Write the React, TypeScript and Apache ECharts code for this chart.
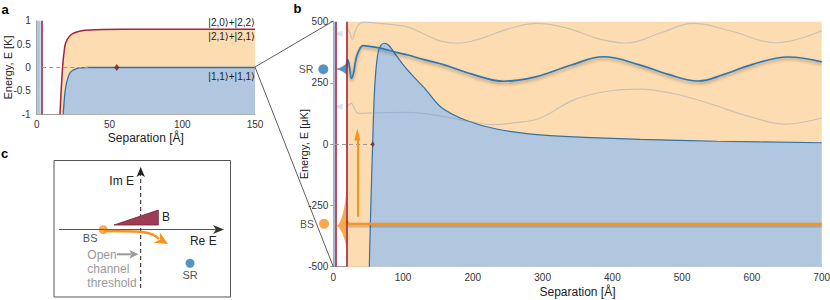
import React, { useEffect, useRef } from "react";
import * as echarts from "echarts";

const FONT = "'Liberation Sans', Arial, Helvetica, 'DejaVu Sans', sans-serif";
const ORANGE_FILL = "#FDDCB1";
const BLUE_FILL = "#B1C7DF";
const CORE_FILL = "#A9BBD0";
const BLUE_LINE = "#3471A8";
const WAVE_BLUE = "#2C78B6";
const FAINT = "rgba(120,150,185,0.38)";
const RED = "#A3243F";
const ORANGE = "#F7941D";
const DIAMOND = "#7B1B1B";

// ---------------- Panel a (K, Å) ----------------
const aRedX = [16, 16.8, 17.9, 18.7, 19.5, 21, 22.9, 25, 27.5, 31, 36.6, 45, 60, 100, 150];
const aRedY = [-1, -0.5, 0.05, 0.3, 0.48, 0.6, 0.68, 0.73, 0.76, 0.785, 0.8, 0.81, 0.815, 0.815, 0.815];
const aBlueX = [18.2, 18.8, 19.5, 20.5, 21.7, 23, 24.8, 27, 29.7, 35, 60, 150];
const aBlueY = [-1, -0.75, -0.52, -0.33, -0.2, -0.11, -0.06, -0.03, -0.01, 0, 0, 0];
const aCoreBand = [0, 2.7];
const aWalls = [3.8];
const aCrossing = [[55, 0]];
const aZeroSegment = [3.8, 36];
const aStateLabels = ["|2,0⟩+|2,2⟩", "|2,1⟩+|2,1⟩", "|1,1⟩+|1,1⟩"];

// ---------------- Panel b (μK, Å) ----------------
const bBlueX = [51.6, 54, 56.4, 58, 59.8, 62, 64.5, 68, 73, 79, 88, 100, 115, 131, 155, 190, 234, 296, 360, 440, 550, 700];
const bBlueY = [-500, -230, 0, 150, 255, 330, 378, 402, 412, 405, 371, 325, 276, 228, 150, 98, 62, 38, 28, 20, 12, 6];
const bSRX = [19, 20.6, 23, 26, 29, 32, 36, 43, 55, 69, 90, 107, 130, 160, 200, 244, 290, 340, 387, 440, 480, 523, 560, 600, 652, 700];
const bSRY = [320, 345, 320, 269, 290, 340, 378, 402, 398, 391, 375, 364, 345, 323, 285, 257, 275, 322, 357, 323, 285, 258, 285, 325, 356, 336];
const bUpperX = [19, 23, 27, 32, 36, 43, 70, 107, 130, 153, 177, 210, 250, 291, 340, 380, 420, 470, 516, 570, 635, 700];
const bUpperY = [473, 460, 429, 465, 487, 498, 492, 478, 450, 422, 412, 430, 470, 493, 470, 430, 413, 455, 493, 462, 414, 463];
const bLowerX = [19, 23, 26, 30, 36, 60, 107, 160, 200, 229, 260, 296, 344, 390, 440, 490, 540, 600, 647, 700];
const bLowerY = [153, 162, 167, 148, 126, 128, 130, 112, 90, 80, 88, 106, 180, 215, 225, 205, 165, 110, 82, 107];
const bBSX = [19, 21, 24, 700];
const bBSY = [-312, -322, -325, -325];
const bCoreBand = [0, 2.5];
const bWalls = [3.5, 19];
const bOpenRegion = [19, 700];
const bCrossing = [[56.4, 0]];
const bZeroSegment = [2.5, 56.4];
const bArrowX = 34.4;
const bArrowY = [-296, 40];
const bSRMarker = [[-14.3, 306]];
const bBSMarker = [[-13.3, -325]];
const bSRTail = [[11, 307]];
const bBSTail = [[12, -305]];
const bUpperTail = [[7, 451]];
const bLowerTail = [[7, 153]];

// ---------------- Panel c (schematic, arbitrary units) ----------------
const cBS = [[-0.443, -0.01]];
const cSR = [[0.537, -0.504]];

const zip = (xs: number[], ys: number[]) => xs.map((x, i) => [x, ys[i]]);

function buildOption(): any {
  const tickLabel = { fontSize: 10, color: "#333", fontFamily: FONT };
  const nameStyle = { fontSize: 12, color: "#222", fontFamily: FONT };
  const yNameStyle = { fontSize: 11, color: "#222", fontFamily: FONT };
  const axisLine = { show: true, onZero: false, lineStyle: { color: "#9a9a9a", width: 1 } };

  const shadow = { shadowColor: "rgba(70,60,40,0.45)", shadowBlur: 3, shadowOffsetY: 2 };

  const series: any[] = [
    // ---------- panel a ----------
    {
      type: "line", xAxisIndex: 0, yAxisIndex: 0, data: [], z: 1, silent: true,
      markArea: { silent: true, itemStyle: { color: BLUE_FILL }, data: [[{ xAxis: aCoreBand[0] }, { xAxis: aCoreBand[1] }]] },
      markLine: {
        silent: true, symbol: ["none", "none"], label: { show: false },
        lineStyle: { color: RED, width: 1.6, type: "solid" },
        data: aWalls.map((x) => ({ xAxis: x })),
      },
    },
    {
      type: "line", xAxisIndex: 0, yAxisIndex: 0, data: zip(aRedX, aRedY), z: 2, silent: true,
      showSymbol: false, smooth: 0.3,
      lineStyle: { color: RED, width: 1.5 },
      areaStyle: { color: ORANGE_FILL, opacity: 1, origin: "start" },
    },
    {
      type: "line", xAxisIndex: 0, yAxisIndex: 0, data: zip(aBlueX, aBlueY), z: 3, silent: true,
      showSymbol: false, smooth: 0.3,
      lineStyle: { color: BLUE_LINE, width: 1.3 },
      areaStyle: { color: BLUE_FILL, opacity: 1, origin: "start" },
    },
    {
      type: "scatter", xAxisIndex: 0, yAxisIndex: 0, data: aCrossing, z: 6, silent: true,
      symbol: "diamond", symbolSize: [5, 7], itemStyle: { color: DIAMOND },
      markLine: {
        silent: true, symbol: ["none", "none"], label: { show: false },
        lineStyle: { color: "#999", width: 1, type: [4, 3] },
        data: [[{ coord: [aZeroSegment[0], 0] }, { coord: [aZeroSegment[1], 0] }]],
      },
    },

    // ---------- panel b ----------
    {
      type: "line", xAxisIndex: 1, yAxisIndex: 1, data: [], z: 1, silent: true,
      markArea: {
        silent: true,
        data: [
          [{ xAxis: bOpenRegion[0], itemStyle: { color: ORANGE_FILL } }, { xAxis: bOpenRegion[1] }],
          [{ xAxis: bCoreBand[0], itemStyle: { color: CORE_FILL } }, { xAxis: bCoreBand[1] }],
        ],
      },
      markLine: {
        silent: true, symbol: ["none", "none"], label: { show: false },
        lineStyle: { color: RED, width: 1.6, type: "solid" },
        data: bWalls.map((x) => ({ xAxis: x })),
      },
    },
    {
      type: "line", xAxisIndex: 1, yAxisIndex: 1, data: zip(bBlueX, bBlueY), z: 2, silent: true,
      showSymbol: false, smooth: 0.35,
      lineStyle: { color: BLUE_LINE, width: 1.2 },
      areaStyle: { color: BLUE_FILL, opacity: 1, origin: "start" },
    },
    {
      type: "line", xAxisIndex: 1, yAxisIndex: 1, data: zip(bUpperX, bUpperY), z: 3, silent: true,
      showSymbol: false, smooth: 0.4, lineStyle: { color: FAINT, width: 1.2 },
    },
    {
      type: "line", xAxisIndex: 1, yAxisIndex: 1, data: zip(bLowerX, bLowerY), z: 3, silent: true,
      showSymbol: false, smooth: 0.4, lineStyle: { color: FAINT, width: 1.2 },
    },
    {
      type: "scatter", xAxisIndex: 1, yAxisIndex: 1, data: [...bUpperTail, ...bLowerTail], z: 3, silent: true,
      symbol: "path://M0,3 L9,0 L9,6 Z", symbolSize: [9, 6], itemStyle: { color: "#CADBEB" },
    },
    {
      type: "scatter", xAxisIndex: 1, yAxisIndex: 1, data: bCrossing, z: 6, silent: true,
      symbol: "diamond", symbolSize: [4, 6], itemStyle: { color: DIAMOND },
      markLine: {
        silent: true, symbol: ["none", "none"], label: { show: false },
        lineStyle: { color: "#999", width: 1, type: [4, 3] },
        data: [[{ coord: [bZeroSegment[0], 0] }, { coord: [bZeroSegment[1], 0] }]],
      },
    },
    {
      type: "line", xAxisIndex: 1, yAxisIndex: 1, data: zip(bSRX, bSRY), z: 4, silent: true,
      showSymbol: false, smooth: 0.4,
      lineStyle: { color: WAVE_BLUE, width: 1.7, ...shadow },
    },
    {
      type: "scatter", xAxisIndex: 1, yAxisIndex: 1, data: bSRTail, z: 4, silent: true,
      symbol: "path://M0,6 Q7,5 12,0 L12,12 Q7,7 0,6 Z", symbolSize: [12, 12], itemStyle: { color: WAVE_BLUE },
    },
    {
      type: "line", xAxisIndex: 1, yAxisIndex: 1, data: zip(bBSX, bBSY), z: 4, silent: true,
      showSymbol: false, smooth: 0.3,
      lineStyle: { color: ORANGE, width: 2.4, ...shadow },
      markLine: {
        silent: true, symbol: ["none", "triangle"], symbolSize: [6, 12], label: { show: false },
        lineStyle: { color: ORANGE, width: 2, type: "solid" },
        data: [[{ coord: [bArrowX, bArrowY[0]] }, { coord: [bArrowX, bArrowY[1]] }]],
      },
    },
    {
      type: "scatter", xAxisIndex: 1, yAxisIndex: 1, data: bBSTail, z: 4, silent: true,
      symbol: "path://M0,38 Q7,34 10,0 L10,62 Q7,42 0,38 Z", symbolSize: [10, 62], itemStyle: { color: ORANGE },
    },
    {
      type: "scatter", xAxisIndex: 1, yAxisIndex: 1, data: bSRMarker, z: 6, silent: true, clip: false,
      symbolSize: 10, itemStyle: { color: WAVE_BLUE },
      label: { show: true, position: "left", distance: 5, formatter: "SR", fontSize: 10.5, color: "#222", fontFamily: FONT },
    },
    {
      type: "scatter", xAxisIndex: 1, yAxisIndex: 1, data: bBSMarker, z: 6, silent: true, clip: false,
      symbolSize: 10, itemStyle: { color: ORANGE },
      label: { show: true, position: "left", distance: 5, formatter: "BS", fontSize: 10.5, color: "#222", fontFamily: FONT },
    },

    // ---------- panel c ----------
    {
      type: "scatter", xAxisIndex: 2, yAxisIndex: 2, data: cBS, z: 8, silent: true, clip: false,
      symbolSize: 9, itemStyle: { color: ORANGE },
      label: { show: true, position: [-16, 7], align: "left", verticalAlign: "top", formatter: "BS", fontSize: 11, color: "#222", fontFamily: FONT },
    },
    {
      type: "scatter", xAxisIndex: 2, yAxisIndex: 2, data: cSR, z: 8, silent: true, clip: false,
      symbolSize: 9, itemStyle: { color: WAVE_BLUE },
      label: { show: true, position: "bottom", distance: 2, formatter: "SR", fontSize: 11, color: "#222", fontFamily: FONT },
    },
  ];

  const T = (text: string, x: number, y: number, extra: any = {}) => ({
    type: "text", x, y, silent: true, z: 100,
    style: { text, fontSize: 12, fontFamily: FONT, fill: "#222", align: "center", verticalAlign: "middle", ...extra },
  });

  // chevron for the orange arrow in panel c
  const tip = [168, 244];
  const d = [0.87, 0.5];
  const n = [-0.5, 0.87];
  const back = [tip[0] - 13 * d[0], tip[1] - 13 * d[1]];
  const notch = [tip[0] - 9 * d[0], tip[1] - 9 * d[1]];
  const chevron = [tip, [back[0] + 6 * n[0], back[1] + 6 * n[1]], notch, [back[0] - 6 * n[0], back[1] - 6 * n[1]]];

  const graphic: any[] = [
    T("a", 5, 9, { fontWeight: "bold", fontSize: 13, fill: "#000" }),
    T("b", 297.5, 8.5, { fontWeight: "bold", fontSize: 13, fill: "#000" }),
    T("c", 4.5, 153.5, { fontWeight: "bold", fontSize: 13, fill: "#000" }),
    T(aStateLabels[0], 255, 22, { align: "right", fontSize: 10 }),
    T(aStateLabels[1], 255, 36.5, { align: "right", fontSize: 10 }),
    T(aStateLabels[2], 255, 76, { align: "right", fontSize: 10 }),
    // zoom connectors
    { type: "line", silent: true, z: 90, shape: { x1: 255, y1: 67, x2: 333.3, y2: 21 }, style: { stroke: "#333", lineWidth: 0.8 } },
    { type: "line", silent: true, z: 90, shape: { x1: 255, y1: 67, x2: 333.3, y2: 266.7 }, style: { stroke: "#333", lineWidth: 0.8 } },
    // panel c
    { type: "rect", silent: true, z: 50, shape: { x: 54, y: 160.5, width: 176.5, height: 136.5 }, style: { fill: "none", stroke: "#555", lineWidth: 1 } },
    { type: "line", silent: true, z: 51, shape: { x1: 59, y1: 229.5, x2: 216, y2: 229.5 }, style: { stroke: "#555", lineWidth: 1.2 } },
    { type: "polygon", silent: true, z: 51, shape: { points: [[224, 229.5], [213, 225], [216, 229.5], [213, 234]] }, style: { fill: "#333" } },
    { type: "line", silent: true, z: 51, shape: { x1: 140.7, y1: 288, x2: 140.7, y2: 174 }, style: { stroke: "#222", lineWidth: 1, lineDash: [4, 3] } },
    { type: "polygon", silent: true, z: 51, shape: { points: [[140.7, 167], [136.5, 177], [140.7, 174.5], [144.9, 177]] }, style: { fill: "#222" } },
    T("Im E", 121.7, 181),
    T("Re E", 203.3, 241),
    T("B", 166, 216.7),
    { type: "polygon", silent: true, z: 52, shape: { points: [[114, 225], [158.3, 210], [158.3, 225]] }, style: { fill: "#9C3D55", stroke: "#7A1F3A", lineWidth: 0.8 } },
    { type: "bezierCurve", silent: true, z: 53, shape: { x1: 104, y1: 231, x2: 159, y2: 239, cpx1: 140, cpy1: 231, cpx2: 152, cpy2: 231 }, style: { stroke: ORANGE, lineWidth: 2.5, fill: "none" } },
    { type: "polygon", silent: true, z: 53, shape: { points: chevron }, style: { fill: ORANGE } },
    T("Open", 87.3, 255, { align: "left", fill: "#9a9a9a" }),
    T("channel", 87.3, 269, { align: "left", fill: "#9a9a9a" }),
    T("threshold", 87.3, 282.7, { align: "left", fill: "#9a9a9a" }),
    { type: "line", silent: true, z: 51, shape: { x1: 117, y1: 254.3, x2: 131, y2: 254.3 }, style: { stroke: "#999", lineWidth: 2 } },
    { type: "polygon", silent: true, z: 51, shape: { points: [[138.5, 254.3], [129.5, 250], [131.5, 254.3], [129.5, 258.6]] }, style: { fill: "#999" } },
  ];

  return {
    animation: false,
    backgroundColor: "#fff",
    textStyle: { fontFamily: FONT },
    grid: [
      { left: 36.7, top: 20.7, width: 218.3, height: 93.6, containLabel: false, outerBoundsMode: "none" },
      { left: 333.3, top: 21.7, width: 488.4, height: 245, containLabel: false, outerBoundsMode: "none" },
      { left: 54, top: 161, width: 177, height: 136, containLabel: false, outerBoundsMode: "none" },
    ],
    xAxis: [
      {
        gridIndex: 0, type: "value", min: 0, max: 150, interval: 50,
        axisLine, axisTick: { show: false }, splitLine: { show: false },
        axisLabel: { ...tickLabel, margin: 5.5 },
        name: "Separation [Å]", nameLocation: "middle", nameGap: 18, nameMoveOverlap: false, nameTextStyle: nameStyle,
      },
      {
        gridIndex: 1, type: "value", min: 0, max: 700, interval: 100,
        axisLine, axisTick: { show: true, inside: true, length: 4, lineStyle: { color: "#999" } }, splitLine: { show: false },
        axisLabel: { ...tickLabel, margin: 5.5 },
        name: "Separation [Å]", nameLocation: "middle", nameGap: 19, nameMoveOverlap: false, nameTextStyle: nameStyle,
      },
      { gridIndex: 2, type: "value", min: -1, max: 1, show: false },
    ],
    yAxis: [
      {
        gridIndex: 0, type: "value", min: -1, max: 1, interval: 0.5,
        axisLine, axisTick: { show: false }, splitLine: { show: false },
        axisLabel: { ...tickLabel, margin: 6 },
        name: "Energy, E [K]", nameLocation: "middle", nameGap: 23.5, nameMoveOverlap: false, nameTextStyle: yNameStyle,
      },
      {
        gridIndex: 1, type: "value", min: -500, max: 500, interval: 250,
        axisLine, axisTick: { show: true, length: 3, lineStyle: { color: "#999" } }, splitLine: { show: false },
        axisLabel: { ...tickLabel, margin: 5 },
        name: "Energy, E [μK]", nameLocation: "middle", nameGap: 24, nameMoveOverlap: false, nameTextStyle: yNameStyle,
      },
      { gridIndex: 2, type: "value", min: -1, max: 1, show: false },
    ],
    series,
    graphic,
  };
}

export default function App() {
  const ref = useRef<HTMLDivElement>(null);
  useEffect(() => {
    if (!ref.current) return;
    const chart = echarts.init(ref.current, null, { renderer: "svg" });
    chart.setOption(buildOption());
    return () => chart.dispose();
  }, []);
  return (
    <div
      ref={ref}
      style={{ position: "fixed", left: 0, top: 0, width: 830, height: 300, background: "#fff" }}
    />
  );
}
